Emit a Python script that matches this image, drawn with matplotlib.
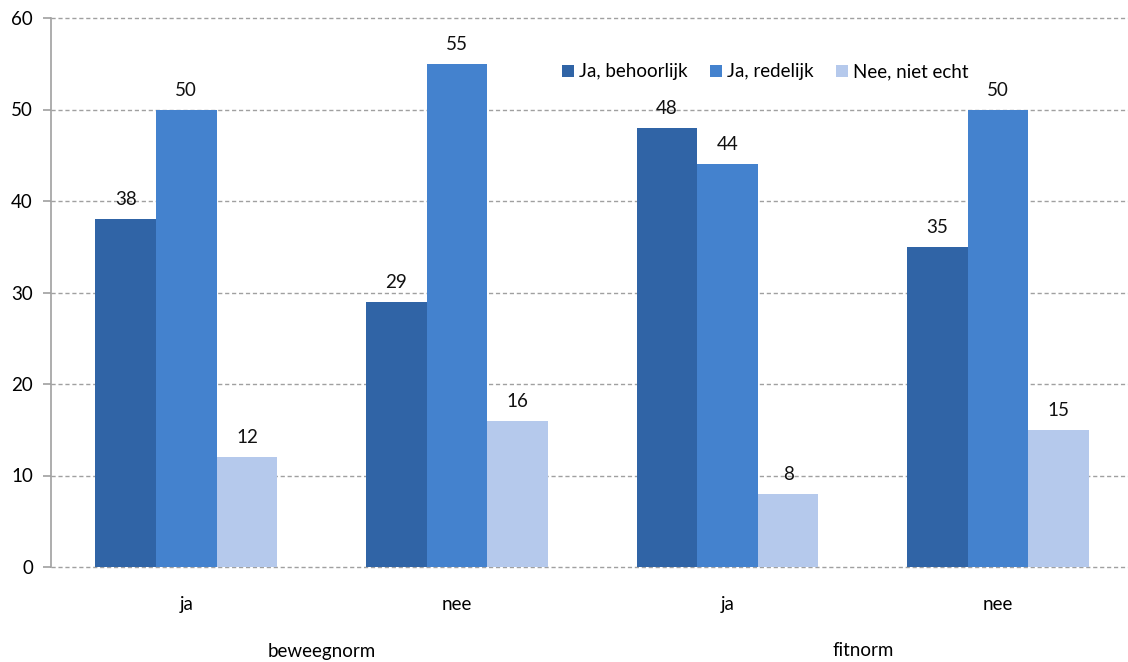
import matplotlib
matplotlib.use("Agg")
import matplotlib.pyplot as plt
import numpy as np

plt.rcParams['font.family'] = ['Lato', 'DejaVu Sans']

categories = ["ja", "nee", "ja", "nee"]
groups = ["beweegnorm", "fitnorm"]
series_names = ["Ja, behoorlijk", "Ja, redelijk", "Nee, niet echt"]
behoorlijk = [38, 29, 48, 35]
redelijk = [50, 55, 44, 50]
niet_echt = [12, 16, 8, 15]
yticks = [0, 10, 20, 30, 40, 50, 60]

colors = ["#3064A6", "#4482CE", "#B5C9EC"]
series = [behoorlijk, redelijk, niet_echt]
FS = 13.5

fig = plt.figure(figsize=(11.28, 6.62), dpi=100)
ax = fig.add_axes([51/1128, 1-567/662, 1-51/1128, (567-18)/662])

x = np.arange(len(categories))
w = 0.224
for i, (vals, c, name) in enumerate(zip(series, colors, series_names)):
    pos = x + (i - 1) * w
    ax.bar(pos, vals, width=w, color=c, label=name, zorder=3, linewidth=0)
    for p, v in zip(pos, vals):
        ax.text(p, v + 1.2, str(v), ha='center', va='bottom', fontsize=FS, color='#111111', zorder=4)

ax.set_xlim(-0.5, 3.48)
ax.set_ylim(0, 60)
ax.set_yticks(yticks)
ax.set_yticklabels([str(t) for t in yticks], fontsize=FS)
ax.yaxis.grid(True, linestyle=(0, (3, 2)), color='#A0A0A0', linewidth=1, zorder=0)
for gl in ax.get_ygridlines():
    gl.set_clip_on(False)
ax.set_axisbelow(True)
for s in ['top', 'right', 'bottom']:
    ax.spines[s].set_visible(False)
ax.spines['left'].set_color('#A0A0A0')
ax.spines['left'].set_linewidth(1.2)
ax.tick_params(axis='y', length=6, color='#A0A0A0', width=1.2, pad=7)
ax.set_xticks(x)
ax.set_xticklabels(categories, fontsize=FS)
ax.tick_params(axis='x', length=0, pad=21)

for gi, g in enumerate(groups):
    xc = (x[2*gi] + x[2*gi+1]) / 2
    ax.text(xc, -(651-567)/549, g, transform=ax.get_xaxis_transform(), ha='center', va='center', fontsize=FS)

leg = ax.legend(loc='center', ncol=3, frameon=False, fontsize=FS, handlelength=0.65, handleheight=0.65,
                handletextpad=0.25, columnspacing=1.2)
leg.set_bbox_to_anchor(((765-51)/1077, 1 - (72-18)/549), transform=ax.transAxes)

fig.savefig("out.png", dpi=100)
